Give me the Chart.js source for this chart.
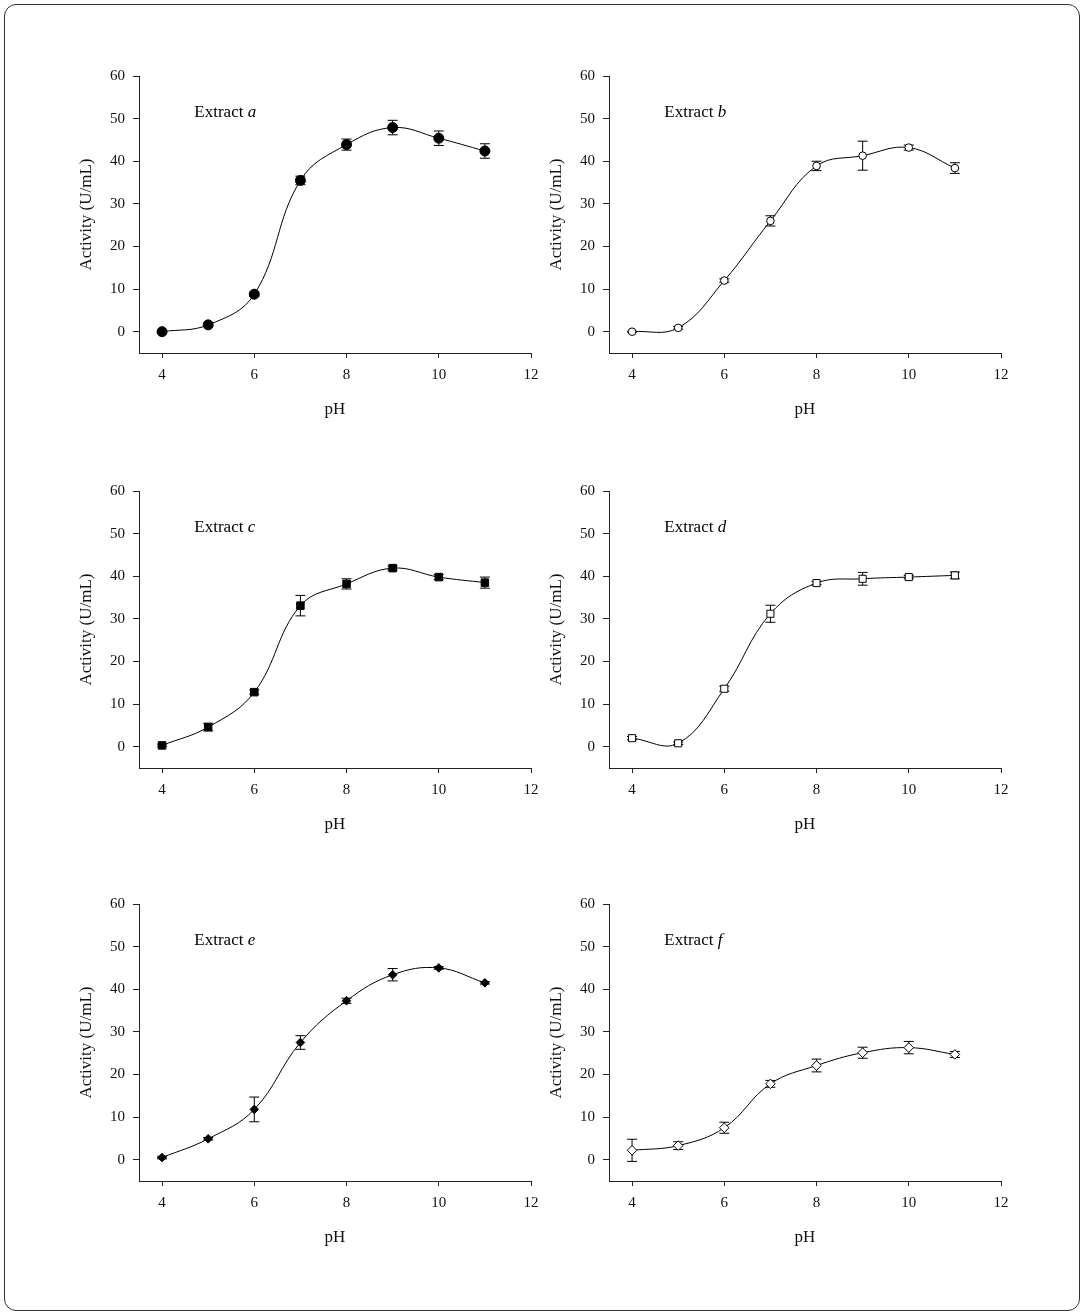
<!DOCTYPE html>
<html>
<head>
<meta charset="utf-8">
<script src="https://cdn.jsdelivr.net/npm/chart.js@4.4.1/dist/chart.umd.min.js"></script>
<style>
  body { margin: 0; background: #fff; }
  #frame { position: absolute; left: 4px; top: 4px; width: 1074px; height: 1305px;
           border: 1px solid #333; border-radius: 12px; }
  canvas { position: absolute; }
</style>
</head>
<body>
<div id="frame"></div>
<script>
// pH values and axis ticks
const phValues = [4, 5, 6, 7, 8, 9, 10, 11];
const xTicks = [4, 6, 8, 10, 12];
const yTicks = [0, 10, 20, 30, 40, 50, 60];

// activity (U/mL) and error bars for each extract
const extractA = [0, 1.6, 8.8, 35.5, 43.9, 47.9, 45.4, 42.4];
const errA = [0.2, 0.4, 0.5, 1.0, 1.3, 1.7, 1.7, 1.7];
const extractB = [0, 0.9, 12.0, 26.0, 38.9, 41.3, 43.2, 38.4];
const errB = [0.1, 0.3, 0.4, 1.2, 1.1, 3.4, 0.6, 1.25];
const extractC = [0.3, 4.6, 12.8, 33.1, 38.2, 41.9, 39.8, 38.5];
const errC = [0.3, 0.9, 0.5, 2.4, 1.2, 0.5, 0.6, 1.3];
const extractD = [2.0, 0.8, 13.6, 31.2, 38.4, 39.4, 39.8, 40.2];
const errD = [0.4, 0.3, 0.6, 2.0, 0.4, 1.5, 0.4, 0.8];
const extractE = [0.5, 4.9, 11.8, 27.5, 37.3, 43.4, 45.0, 41.5];
const errE = [0.3, 0.3, 2.9, 1.6, 0.6, 1.45, 0.3, 0.3];
const extractF = [2.2, 3.3, 7.5, 17.8, 22.1, 25.1, 26.3, 24.7];
const errF = [2.6, 0.9, 1.3, 0.8, 1.5, 1.3, 1.45, 0.7];

const letters = ['a', 'b', 'c', 'd', 'e', 'f'];
const FONT = "'Liberation Serif', 'Times New Roman', serif";

const panels = [
  { vals: extractA, err: errA, style: 'circle',  r: 5,   fill: '#000', left: 70,  top: 56 },
  { vals: extractB, err: errB, style: 'circle',  r: 3.8, fill: '#fff', left: 540, top: 56 },
  { vals: extractC, err: errC, style: 'rect',    r: 5.3, fill: '#000', left: 70,  top: 471 },
  { vals: extractD, err: errD, style: 'rect',    r: 5,   fill: '#fff', left: 540, top: 471 },
  { vals: extractE, err: errE, style: 'rectRot', r: 4.3, fill: '#000', left: 70,  top: 884 },
  { vals: extractF, err: errF, style: 'rectRot', r: 4.8, fill: '#fff', left: 540, top: 884 }
];

const errorBars = {
  id: 'errorBars',
  beforeDatasetsDraw(chart, args, opts) {
    const { ctx, scales: { x, y } } = chart;
    ctx.save();
    ctx.strokeStyle = '#000';
    ctx.lineWidth = 1;
    chart.data.datasets[0].data.forEach((p, i) => {
      const px = x.getPixelForValue(p.x);
      const t = y.getPixelForValue(p.y + opts.err[i]);
      const b = y.getPixelForValue(p.y - opts.err[i]);
      ctx.beginPath();
      ctx.moveTo(px, t); ctx.lineTo(px, b);
      ctx.moveTo(px - 5, t); ctx.lineTo(px + 5, t);
      ctx.moveTo(px - 5, b); ctx.lineTo(px + 5, b);
      ctx.stroke();
    });
    ctx.restore();
  }
};

const extractLabel = {
  id: 'extractLabel',
  afterDraw(chart, args, opts) {
    const { ctx, scales: { x, y } } = chart;
    const px = x.getPixelForValue(4.7), py = y.getPixelForValue(51.4);
    ctx.save();
    ctx.fillStyle = '#000';
    ctx.textBaseline = 'middle';
    ctx.font = '17px ' + FONT;
    ctx.fillText('Extract ', px, py);
    const w = ctx.measureText('Extract ').width;
    ctx.font = 'italic 17px ' + FONT;
    ctx.fillText(opts.letter, px + w, py);
    ctx.restore();
  }
};

panels.forEach((p, k) => {
  const cv = document.createElement('canvas');
  cv.width = 491; cv.height = 364;
  cv.style.left = p.left + 'px';
  cv.style.top = p.top + 'px';
  document.body.appendChild(cv);

  new Chart(cv.getContext('2d'), {
    type: 'line',
    data: {
      datasets: [{
        data: phValues.map((ph, i) => ({ x: ph, y: p.vals[i] })),
        borderColor: '#000',
        borderWidth: 1,
        tension: 0.4,
        pointStyle: p.style,
        pointRadius: p.r,
        pointBackgroundColor: p.fill,
        pointBorderColor: '#000',
        pointBorderWidth: 1
      }]
    },
    options: {
      responsive: false,
      animation: false,
      layout: { padding: { left: 0, top: 20, right: 30, bottom: 0 } },
      plugins: {
        legend: { display: false },
        tooltip: { enabled: false },
        errorBars: { err: p.err },
        extractLabel: { letter: letters[k] }
      },
      scales: {
        x: {
          type: 'linear', min: 3.5, max: 12,
          afterBuildTicks: s => { s.ticks = xTicks.map(v => ({ value: v })); },
          afterFit: s => { s.height = 67; },
          grid: { drawOnChartArea: false, tickLength: 5, color: '#222' },
          border: { color: '#222', width: 1 },
          ticks: { padding: 8, color: '#111', font: { family: FONT, size: 15 } },
          title: { display: true, text: 'pH', color: '#111', padding: 0,
                   font: { family: FONT, size: 17 } }
        },
        y: {
          min: -5, max: 60,
          afterBuildTicks: s => { s.ticks = yTicks.map(v => ({ value: v })); },
          afterFit: s => { s.width = 69; },
          grid: { drawOnChartArea: false, tickLength: 6, color: '#222' },
          border: { color: '#222', width: 1 },
          ticks: { padding: 8, color: '#111', font: { family: FONT, size: 15 } },
          title: { display: true, text: 'Activity (U/mL)', color: '#111',
                   padding: { top: 6, bottom: 0 }, font: { family: FONT, size: 17 } }
        }
      }
    },
    plugins: [errorBars, extractLabel]
  });
});
</script>
</body>
</html>
